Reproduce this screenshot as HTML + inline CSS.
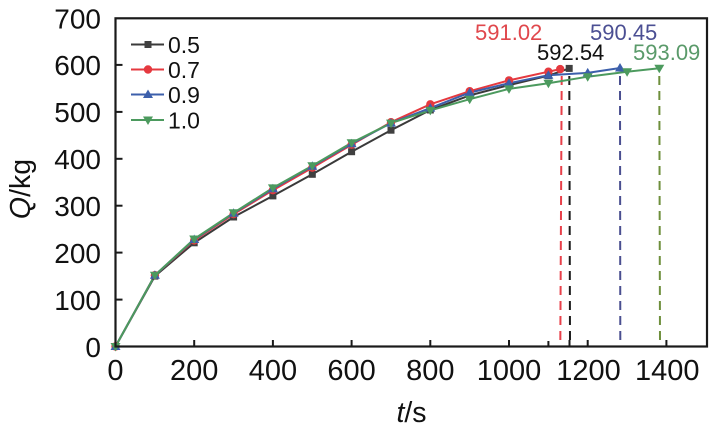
<!DOCTYPE html>
<html>
<head>
<meta charset="utf-8">
<style>
  html,body{margin:0;padding:0;background:#fff;}
  svg{display:block;}
  text{font-family:"Liberation Sans",Arial,sans-serif;}
</style>
</head>
<body>
<svg width="718" height="429" viewBox="0 0 718 429" xmlns="http://www.w3.org/2000/svg">
  <rect x="0" y="0" width="718" height="429" fill="#fff"/>

  <!-- dashed verticals -->
  <g stroke-width="2" fill="none" stroke-dasharray="9,6">
    <line x1="561.7" y1="76" x2="560.3" y2="346" stroke="#e8404a"/>
    <line x1="569.3" y1="76" x2="570" y2="346" stroke="#1a1a1a"/>
    <line x1="620" y1="76" x2="620.3" y2="346" stroke="#4a4f90"/>
    <line x1="659.3" y1="76" x2="660" y2="346" stroke="#6e8f3c"/>
  </g>

  <!-- series lines -->
  <g fill="none" stroke-width="2" stroke-linejoin="round">
    <polyline stroke="#3a3a3a" points="115.5,346.5 154.9,276.1 194.2,242.8 233.6,217.0 272.9,195.9 312.3,174.3 351.6,151.7 391.0,130.2 430.3,110.0 469.7,95.4 509.0,85.1 548.4,75.7 569.2,68.4"/>
    <polyline stroke="#e5393f" points="115.5,346.5 154.9,275.2 194.2,240.4 233.6,214.2 272.9,190.2 312.3,167.7 351.6,144.7 391.0,122.2 430.3,104.3 469.7,91.2 509.0,80.4 548.4,71.7 560.2,69.1"/>
    <polyline stroke="#3c5fab" points="115.5,346.5 154.9,275.2 194.2,239.5 233.6,213.2 272.9,188.8 312.3,166.3 351.6,143.8 391.0,123.1 430.3,108.1 469.7,92.6 509.0,83.2 548.4,75.2 587.7,72.9 620.0,68.0"/>
    <polyline stroke="#4c9a5e" points="115.5,346.5 154.9,275.2 194.2,239.0 233.6,212.8 272.9,187.9 312.3,165.8 351.6,142.8 391.0,123.1 430.3,110.4 469.7,99.2 509.0,88.9 548.4,83.2 587.7,76.7 627.1,71.7 659.3,68.2"/>
  </g>

  <!-- black squares -->
  <g fill="#404040">
    <rect x="112" y="343" width="7" height="7"/>
    <rect x="151.4" y="272.6" width="7" height="7"/>
    <rect x="190.7" y="239.3" width="7" height="7"/>
    <rect x="230.1" y="213.5" width="7" height="7"/>
    <rect x="269.4" y="192.4" width="7" height="7"/>
    <rect x="308.8" y="170.8" width="7" height="7"/>
    <rect x="348.1" y="148.2" width="7" height="7"/>
    <rect x="387.5" y="126.7" width="7" height="7"/>
    <rect x="426.8" y="106.5" width="7" height="7"/>
    <rect x="466.2" y="91.9" width="7" height="7"/>
    <rect x="505.5" y="81.6" width="7" height="7"/>
    <rect x="544.9" y="72.2" width="7" height="7"/>
    <rect x="565.7" y="64.9" width="7" height="7"/>
  </g>

  <!-- red circles -->
  <g fill="#e5393f">
    <circle cx="115.5" cy="346.5" r="4.2"/>
    <circle cx="154.9" cy="275.2" r="4.2"/>
    <circle cx="194.2" cy="240.4" r="4.2"/>
    <circle cx="233.6" cy="214.2" r="4.2"/>
    <circle cx="272.9" cy="190.2" r="4.2"/>
    <circle cx="312.3" cy="167.7" r="4.2"/>
    <circle cx="351.6" cy="144.7" r="4.2"/>
    <circle cx="391.0" cy="122.2" r="4.2"/>
    <circle cx="430.3" cy="104.3" r="4.2"/>
    <circle cx="469.7" cy="91.2" r="4.2"/>
    <circle cx="509.0" cy="80.4" r="4.2"/>
    <circle cx="548.4" cy="71.7" r="4.2"/>
    <circle cx="560.2" cy="69.1" r="4.2"/>
  </g>

  <!-- blue up triangles -->
  <g fill="#3c5fab">
    <polygon points="115.5,341.5 120.5,350 110.5,350"/>
    <polygon points="154.9,270.2 159.9,278.7 149.9,278.7"/>
    <polygon points="194.2,234.5 199.2,243 189.2,243"/>
    <polygon points="233.6,208.2 238.6,216.7 228.6,216.7"/>
    <polygon points="272.9,183.8 277.9,192.3 267.9,192.3"/>
    <polygon points="312.3,161.3 317.3,169.8 307.3,169.8"/>
    <polygon points="351.6,138.8 356.6,147.3 346.6,147.3"/>
    <polygon points="391.0,118.1 396,126.6 386,126.6"/>
    <polygon points="430.3,103.1 435.3,111.6 425.3,111.6"/>
    <polygon points="469.7,87.6 474.7,96.1 464.7,96.1"/>
    <polygon points="509.0,78.2 514,86.7 504,86.7"/>
    <polygon points="548.4,70.2 553.4,78.7 543.4,78.7"/>
    <polygon points="587.7,67.9 592.7,76.4 582.7,76.4"/>
    <polygon points="620.0,63.0 625,71.5 615,71.5"/>
  </g>

  <!-- green down triangles -->
  <g fill="#4c9a5e">
    <polygon points="110.5,343 120.5,343 115.5,351.5"/>
    <polygon points="149.9,271.7 159.9,271.7 154.9,280.2"/>
    <polygon points="189.2,235.5 199.2,235.5 194.2,244"/>
    <polygon points="228.6,209.3 238.6,209.3 233.6,217.8"/>
    <polygon points="267.9,184.4 277.9,184.4 272.9,192.9"/>
    <polygon points="307.3,162.3 317.3,162.3 312.3,170.8"/>
    <polygon points="346.6,139.3 356.6,139.3 351.6,147.8"/>
    <polygon points="386,119.6 396,119.6 391,128.1"/>
    <polygon points="425.3,106.9 435.3,106.9 430.3,115.4"/>
    <polygon points="464.7,95.7 474.7,95.7 469.7,104.2"/>
    <polygon points="504,85.4 514,85.4 509,93.9"/>
    <polygon points="543.4,79.7 553.4,79.7 548.4,88.2"/>
    <polygon points="582.7,73.2 592.7,73.2 587.7,81.7"/>
    <polygon points="622.1,68.2 632.1,68.2 627.1,76.7"/>
    <polygon points="654.3,64.7 664.3,64.7 659.3,73.2"/>
  </g>

  <!-- axes frame -->
  <rect x="115.5" y="18.3" width="591.5" height="328.2" fill="none" stroke="#1a1a1a" stroke-width="2.2"/>

  <!-- x ticks -->
  <g stroke="#1a1a1a" stroke-width="2">
    <line x1="194.2" y1="346" x2="194.2" y2="340"/>
    <line x1="272.9" y1="346" x2="272.9" y2="340"/>
    <line x1="351.6" y1="346" x2="351.6" y2="340"/>
    <line x1="430.3" y1="346" x2="430.3" y2="340"/>
    <line x1="509.0" y1="346" x2="509.0" y2="340"/>
    <line x1="548.4" y1="346" x2="548.4" y2="341"/>
    <line x1="569.5" y1="346" x2="569.5" y2="340"/>
    <line x1="587.7" y1="346" x2="587.7" y2="340"/>
    <line x1="666.4" y1="346" x2="666.4" y2="340"/>
  </g>
  <!-- y ticks -->
  <g stroke="#1a1a1a" stroke-width="2">
    <line x1="115.5" y1="64.9" x2="122.5" y2="64.9"/>
    <line x1="115.5" y1="111.9" x2="122.5" y2="111.9"/>
    <line x1="115.5" y1="158.8" x2="122.5" y2="158.8"/>
    <line x1="115.5" y1="205.7" x2="122.5" y2="205.7"/>
    <line x1="115.5" y1="252.6" x2="122.5" y2="252.6"/>
    <line x1="115.5" y1="299.6" x2="122.5" y2="299.6"/>
  </g>

  <!-- y labels -->
  <g font-size="28" fill="#111" text-anchor="end">
    <text x="101" y="28.5">700</text>
    <text x="101" y="75">600</text>
    <text x="101" y="122">500</text>
    <text x="101" y="169">400</text>
    <text x="101" y="216">300</text>
    <text x="101" y="263">200</text>
    <text x="101" y="310">100</text>
    <text x="101" y="357">0</text>
  </g>
  <!-- x labels -->
  <g font-size="29" fill="#111" text-anchor="middle">
    <text x="115.5" y="380">0</text>
    <text x="194.2" y="380">200</text>
    <text x="272.9" y="380">400</text>
    <text x="351.6" y="380">600</text>
    <text x="430.3" y="380">800</text>
    <text x="509.0" y="380">1000</text>
    <text x="588.5" y="380">1200</text>
    <text x="667.3" y="380">1400</text>
  </g>

  <!-- axis titles -->
  <text x="411.5" y="422" font-size="28.5" fill="#111" text-anchor="middle"><tspan font-style="italic">t</tspan>/s</text>
  <text transform="translate(30,189) rotate(-90)" font-size="28.5" fill="#111" text-anchor="middle"><tspan font-style="italic">Q</tspan>/kg</text>

  <!-- legend -->
  <g stroke-width="2">
    <line x1="131" y1="44.5" x2="164" y2="44.5" stroke="#3a3a3a"/>
    <line x1="131" y1="69.5" x2="164" y2="69.5" stroke="#e5393f"/>
    <line x1="131" y1="94.5" x2="164" y2="94.5" stroke="#3c5fab"/>
    <line x1="131" y1="120" x2="164" y2="120" stroke="#4c9a5e"/>
  </g>
  <rect x="144.5" y="41" width="7" height="7" fill="#404040"/>
  <circle cx="148" cy="69.5" r="4.2" fill="#e5393f"/>
  <polygon points="148,89.5 153,98 143,98" fill="#3c5fab"/>
  <polygon points="143,116.5 153,116.5 148,125" fill="#4c9a5e"/>
  <g font-size="23" fill="#111">
    <text x="168" y="53">0.5</text>
    <text x="168" y="78">0.7</text>
    <text x="168" y="103">0.9</text>
    <text x="168" y="128.5">1.0</text>
  </g>

  <!-- annotations -->
  <g font-size="22">
    <text x="475" y="40" fill="#e0474c">591.02</text>
    <text x="590" y="40" fill="#4b4f93">590.45</text>
    <text x="537" y="60" fill="#111">592.54</text>
    <text x="633" y="60" fill="#5a9a6a">593.09</text>
  </g>
</svg>
</body>
</html>
